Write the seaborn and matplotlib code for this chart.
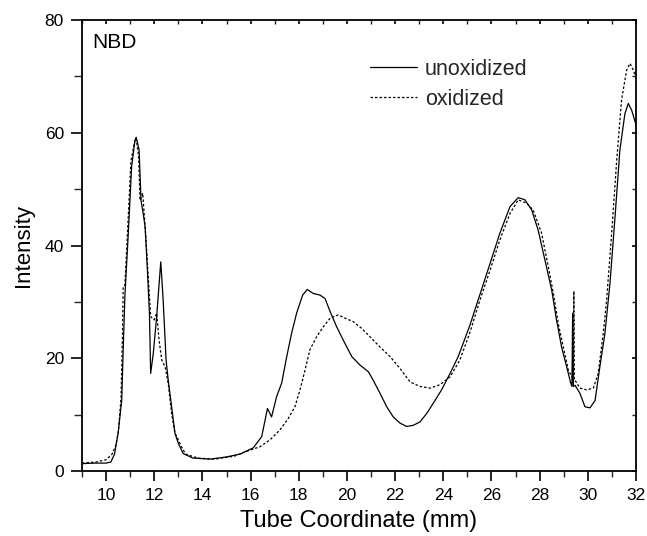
import matplotlib
matplotlib.use("Agg")
import matplotlib.pyplot as plt
from matplotlib.ticker import MultipleLocator
import seaborn as sns
import pandas as pd
import numpy as np

# ---- data ----
x_unox = [9.0, 9.5, 10.0, 10.2, 10.35, 10.5, 10.65, 10.71, 10.78, 10.92, 11.06, 11.2, 11.25,
          11.37, 11.45, 11.54, 11.62, 11.71, 11.8, 11.85, 11.96, 12.1, 12.27, 12.37, 12.49,
          12.58, 12.72, 12.86, 13.0, 13.2, 13.6, 14.3, 15.0, 15.56, 16.11, 16.46, 16.6, 16.7,
          16.87, 17.08, 17.29, 17.5, 17.7, 17.91, 18.16, 18.35, 18.6, 18.88, 19.09, 19.3, 19.57,
          19.92, 20.2, 20.54, 20.89, 21.09, 21.37, 21.65, 21.92, 22.2, 22.48, 22.75, 23.03,
          23.31, 23.58, 23.93, 24.28, 24.62, 25.1, 25.52, 25.94, 26.35, 26.77, 27.11, 27.39,
          27.67, 27.94, 28.22, 28.5, 28.7, 28.91, 29.12, 29.29, 29.34, 29.37, 29.40, 29.47,
          29.67, 29.88, 30.09, 30.3, 30.5, 30.71, 30.92, 31.13, 31.33, 31.54, 31.68, 31.82, 31.98]
y_unox = [1.3, 1.4, 1.4, 1.6, 3.0, 6.7, 12.6, 21.5, 31.0, 42.0, 54.0, 58.7, 59.2,
          57.0, 48.0, 45.7, 43.3, 36.0, 28.0, 17.3, 20.9, 27.4, 37.1, 30.3, 19.7,
          16.1, 11.4, 6.7, 4.9, 3.1, 2.3, 2.1, 2.5, 3.0, 4.1, 6.1, 9.0, 11.1,
          9.6, 13.2, 15.6, 20.3, 24.4, 28.0, 31.2, 32.2, 31.5, 31.2, 30.6, 28.3, 25.6,
          22.6, 20.3, 18.8, 17.6, 16.1, 13.8, 11.4, 9.6, 8.5, 7.9, 8.1, 8.7,
          10.2, 12.0, 14.4, 17.3, 20.3, 25.8, 31.3, 36.8, 42.2, 46.9, 48.5, 48.1,
          46.3, 42.7, 37.4, 32.1, 26.8, 22.0, 18.5, 15.6, 15.0, 28.0, 15.0, 15.2,
          13.8, 11.4, 11.2, 12.5, 18.5, 24.4, 33.3, 45.1, 56.9, 63.4, 65.2, 64.0, 61.7]

x_ox = [9.0, 9.6, 10.0, 10.25, 10.4, 10.51, 10.62, 10.68, 10.71, 10.78, 10.92, 11.03, 11.2,
        11.25, 11.35, 11.41, 11.52, 11.58, 11.66, 11.75, 11.85, 11.99, 12.1, 12.2, 12.31,
        12.45, 12.58, 12.72, 12.86, 13.0, 13.13, 13.3, 13.8, 14.5, 15.3, 15.97, 16.39, 16.8,
        17.22, 17.56, 17.84, 18.05, 18.26, 18.46, 18.74, 19.02, 19.3, 19.64, 19.92, 20.26,
        20.61, 20.96, 21.37, 21.79, 22.2, 22.62, 23.03, 23.45, 23.86, 24.28, 24.69, 25.1,
        25.52, 25.94, 26.35, 26.77, 27.11, 27.46, 27.73, 28.08, 28.36, 28.57, 28.77, 28.98,
        29.19, 29.33, 29.40, 29.42, 29.44, 29.5, 29.67, 29.95, 30.23, 30.43, 30.64, 30.78,
        30.99, 31.2, 31.4, 31.61, 31.75, 31.89, 31.98]
y_ox = [1.4, 1.6, 2.0, 3.0, 4.5, 7.0, 13.0, 24.0, 32.7, 33.0, 45.0, 55.0, 58.7,
        59.0, 55.8, 48.0, 49.3, 45.7, 41.0, 34.5, 27.4, 26.8, 28.0, 23.2, 19.7,
        18.5, 15.5, 10.2, 6.7, 5.5, 4.3, 3.0, 2.3, 2.1, 2.6, 3.7, 4.3, 5.5,
        7.3, 9.3, 11.4, 14.4, 17.9, 21.5, 23.8, 25.6, 27.1, 27.7, 27.1, 26.5,
        25.3, 23.8, 22.0, 20.3, 18.2, 15.8, 15.0, 14.7, 15.3, 16.7, 19.7, 24.5,
        30.3, 35.6, 41.0, 45.7, 48.1, 47.5, 46.3, 42.2, 36.2, 31.5, 26.2, 22.0,
        17.9, 16.8, 16.0, 31.9, 16.0, 15.9, 14.7, 14.4, 14.7, 17.3, 24.4, 30.3,
        42.2, 55.2, 65.8, 71.1, 72.3, 71.1, 70.0]

series_names = ["unoxidized", "oxidized"]
x_ticks = [10, 12, 14, 16, 18, 20, 22, 24, 26, 28, 30, 32]
y_ticks = [0, 20, 40, 60, 80]

df_u = pd.DataFrame({"x": x_unox, "y": y_unox})
df_o = pd.DataFrame({"x": x_ox, "y": y_ox})

sns.set_theme(style="white")
plt.rcParams["font.family"] = ["Liberation Sans", "DejaVu Sans"]

fig = plt.figure(figsize=(6.47, 5.36), dpi=100)
ax = fig.add_axes([82/647, 1 - 471/536, (636-82)/647, (471-20)/536])

sns.lineplot(data=df_u, x="x", y="y", ax=ax, color="black", linewidth=0.9,
             label=series_names[0], sort=False, estimator=None)
sns.lineplot(data=df_o, x="x", y="y", ax=ax, color="black", linewidth=0.9,
             label=series_names[1], sort=False, estimator=None, linestyle=(0, (2.0, 1.6)))

ax.set_xlim(9, 32)
ax.set_ylim(0, 80)
ax.set_xticks(x_ticks)
ax.set_yticks(y_ticks)
ax.xaxis.set_minor_locator(MultipleLocator(1))
ax.yaxis.set_minor_locator(MultipleLocator(10))

for s in ax.spines.values():
    s.set_visible(True)
    s.set_color("black")
    s.set_linewidth(1.3)

ax.tick_params(axis="x", which="major", direction="out", length=7, width=1.2,
               labelsize=12.5, pad=5, colors="black", bottom=True, top=True)
ax.tick_params(axis="x", which="minor", direction="out", length=4, width=1.0,
               bottom=True, top=True)
ax.tick_params(axis="y", which="major", direction="out", length=8, width=1.2,
               labelsize=12.5, pad=5, colors="black", left=True, right=True)
ax.tick_params(axis="y", which="minor", direction="out", length=6, width=1.0,
               left=True, right=True)
# top/right ticks drawn short and inward
for t in ax.xaxis.get_major_ticks() + ax.xaxis.get_minor_ticks():
    t.tick2line.set_markersize(3)
    t.tick2line.set_marker(3)
for t in ax.yaxis.get_major_ticks() + ax.yaxis.get_minor_ticks():
    t.tick2line.set_markersize(3)
    t.tick2line.set_marker(0)

ax.set_xlabel("Tube Coordinate (mm)", fontsize=17, labelpad=5, color="black")
ax.set_ylabel("Intensity", fontsize=16, labelpad=8, color="black")

ax.text(10/554, (471-48)/451, "NBD", transform=ax.transAxes, fontsize=15,
        va="baseline", ha="left", color="black")

leg = ax.legend(loc="upper left", bbox_to_anchor=((370-82)/554, (471-59)/451),
                frameon=False, fontsize=15.5, handlelength=2.2, handletextpad=0.35,
                borderpad=0, borderaxespad=0, labelspacing=0.4)
for line in leg.get_lines():
    line.set_color("black")
    line.set_linewidth(0.9)

fig.savefig("out.png", dpi=100)
